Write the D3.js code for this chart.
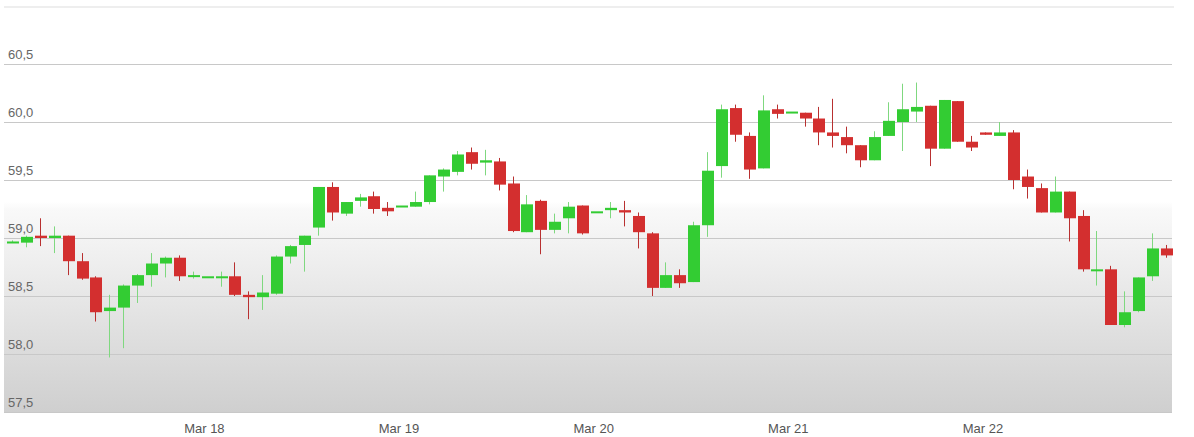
<!DOCTYPE html>
<html>
<head>
<meta charset="utf-8">
<script src="https://cdn.jsdelivr.net/npm/d3@7"></script>
<style>
  body { margin: 0; background: #fff; }
  svg { display: block; font-family: "DejaVu Sans", Verdana, sans-serif; }
</style>
</head>
<body>
<svg id="chart" width="1194" height="437"></svg>
<script>
// hourly candles, Mar 17 - Mar 22
const opens = [58.97, 58.96, 59.02, 59.00, 59.02, 58.80, 58.66, 58.37, 58.40, 58.59, 58.68, 58.78, 58.83, 58.68,
  58.67, 58.66, 58.67, 58.51, 58.49, 58.52, 58.84, 58.94, 59.09, 59.44, 59.21, 59.32, 59.36, 59.26,
  59.28, 59.27, 59.31, 59.53, 59.57, 59.74, 59.65, 59.66, 59.47, 59.05, 59.32, 59.07, 59.17, 59.28,
  59.23, 59.24, 59.24, 59.19, 59.04, 58.57, 58.68, 58.62, 59.11, 59.62, 60.12, 59.88, 59.60, 60.11,
  60.09, 60.08, 60.03, 59.91, 59.87, 59.80, 59.67, 59.88, 60.00, 60.09, 60.14, 59.77, 60.18, 59.83,
  59.91, 59.88, 59.91, 59.53, 59.43, 59.22, 59.40, 59.19, 58.73, 58.73, 58.25, 58.37, 58.67, 58.91];
const highs = [58.98, 59.02, 59.17, 59.10, 59.02, 58.87, 58.67, 58.51, 58.60, 58.69, 58.87, 58.84, 58.85, 58.71,
  58.67, 58.71, 58.79, 58.54, 58.68, 58.85, 58.94, 59.02, 59.44, 59.48, 59.31, 59.38, 59.40, 59.31,
  59.28, 59.40, 59.54, 59.60, 59.75, 59.78, 59.76, 59.69, 59.53, 59.37, 59.33, 59.21, 59.31, 59.28,
  59.23, 59.31, 59.32, 59.22, 59.05, 58.79, 58.73, 59.14, 59.74, 60.15, 60.15, 59.91, 60.23, 60.15,
  60.09, 60.08, 60.13, 60.20, 59.96, 59.80, 59.92, 60.17, 60.33, 60.34, 60.14, 60.19, 60.18, 59.88,
  59.91, 60.00, 59.93, 59.59, 59.47, 59.53, 59.40, 59.24, 59.06, 58.76, 58.54, 58.66, 59.04, 58.94];
const lows = [58.96, 58.92, 58.93, 58.87, 58.68, 58.64, 58.28, 57.97, 58.05, 58.44, 58.58, 58.66, 58.63, 58.65,
  58.67, 58.58, 58.50, 58.30, 58.38, 58.51, 58.78, 58.71, 59.02, 59.15, 59.19, 59.27, 59.21, 59.19,
  59.28, 59.27, 59.29, 59.40, 59.54, 59.59, 59.54, 59.41, 59.05, 59.05, 58.86, 59.04, 59.04, 59.03,
  59.23, 59.17, 59.10, 58.91, 58.50, 58.57, 58.57, 58.62, 59.01, 59.52, 59.83, 59.51, 59.60, 60.03,
  60.09, 59.96, 59.80, 59.78, 59.73, 59.61, 59.67, 59.88, 59.75, 60.00, 59.62, 59.77, 59.83, 59.75,
  59.89, 59.88, 59.42, 59.34, 59.22, 59.22, 58.97, 58.71, 58.59, 58.25, 58.23, 58.36, 58.63, 58.83];
const closes = [58.97, 59.01, 59.00, 59.02, 58.80, 58.65, 58.36, 58.40, 58.59, 58.68, 58.78, 58.83, 58.67, 58.68,
  58.67, 58.67, 58.51, 58.49, 58.53, 58.84, 58.93, 59.02, 59.44, 59.22, 59.31, 59.35, 59.25, 59.23,
  59.28, 59.31, 59.54, 59.59, 59.72, 59.64, 59.67, 59.46, 59.06, 59.29, 59.07, 59.14, 59.27, 59.04,
  59.23, 59.26, 59.22, 59.05, 58.57, 58.68, 58.61, 59.11, 59.58, 60.11, 59.89, 59.59, 60.10, 60.07,
  60.09, 60.03, 59.91, 59.88, 59.80, 59.67, 59.87, 60.01, 60.11, 60.13, 59.77, 60.19, 59.83, 59.78,
  59.89, 59.91, 59.50, 59.44, 59.22, 59.40, 59.17, 58.73, 58.73, 58.25, 58.36, 58.66, 58.91, 58.85];
const yTicks = [57.5, 58.0, 58.5, 59.0, 59.5, 60.0, 60.5];
const dayLabels = ['Mar 18', 'Mar 19', 'Mar 20', 'Mar 21', 'Mar 22'];
const dayStarts = [13.8, 27.8, 41.8, 55.8, 69.8]; // candle index where each day begins

const upColor = '#33cc33';
const downColor = '#d32f2f';
const upWick = '#7fd87f';
const downWick = '#b83030';

const svg = d3.select('#chart');
const plotLeft = 4, plotRight = 1172, plotTop = 7, plotBottom = 412;

const x = d3.scaleLinear().domain([0, opens.length - 1]).range([12, 1166]);
const y = d3.scaleLinear().domain([57.5, 60.5]).range([412, 64]);

// background
const defs = svg.append('defs');
const grad = defs.append('linearGradient')
  .attr('id', 'bg-grad')
  .attr('x1', 0).attr('y1', 0).attr('x2', 0).attr('y2', 1);
[[0, '#ffffff'], [0.48, '#ffffff'], [0.5, '#f9f9f9'], [1, '#cfcfcf']].forEach(s => {
  grad.append('stop').attr('offset', s[0]).attr('stop-color', s[1]);
});
svg.append('rect')
  .attr('x', plotLeft).attr('y', plotTop)
  .attr('width', plotRight - plotLeft).attr('height', plotBottom - plotTop)
  .attr('fill', 'url(#bg-grad)');
svg.append('line')
  .attr('x1', plotLeft).attr('x2', plotRight + 2)
  .attr('y1', plotTop).attr('y2', plotTop)
  .attr('stroke', '#dddddd');

// grid + y labels
const yAxis = d3.axisRight(y).tickValues(yTicks).tickSize(plotRight - plotLeft)
  .tickFormat(d => d3.format('.1f')(d).replace('.', ','));
const gy = svg.append('g').attr('transform', `translate(${plotLeft},0)`).call(yAxis);
gy.select('.domain').remove();
gy.selectAll('line').attr('stroke', '#c8c8c8');
gy.selectAll('text')
  .attr('x', 4).attr('dy', -6)
  .attr('fill', '#666').attr('font-size', 13)
  .attr('text-anchor', 'start');

// x labels
const xAxis = d3.axisBottom(x).tickValues(dayStarts).tickSize(0).tickPadding(12)
  .tickFormat((d, i) => dayLabels[i]);
const gx = svg.append('g').attr('transform', `translate(0,${plotBottom})`).call(xAxis);
gx.select('.domain').remove();
gx.selectAll('text').attr('fill', '#555').attr('font-size', 13);

// candles
const candles = opens.map((o, i) => ({ i, o, h: highs[i], l: lows[i], c: closes[i] }));
const g = svg.append('g');
const cg = g.selectAll('g').data(candles).enter().append('g');
cg.append('line')
  .attr('x1', d => Math.round(x(d.i)) + 0.5)
  .attr('x2', d => Math.round(x(d.i)) + 0.5)
  .attr('y1', d => y(d.h))
  .attr('y2', d => y(d.l))
  .attr('stroke', d => d.c >= d.o ? upWick : downWick)
  .attr('stroke-width', 1);
cg.append('rect')
  .attr('x', d => Math.round(x(d.i)) - 5)
  .attr('width', 12)
  .attr('y', d => y(Math.max(d.o, d.c)))
  .attr('height', d => Math.max(2, y(Math.min(d.o, d.c)) - y(Math.max(d.o, d.c))))
  .attr('fill', d => d.c >= d.o ? upColor : downColor);
</script>
</body>
</html>
